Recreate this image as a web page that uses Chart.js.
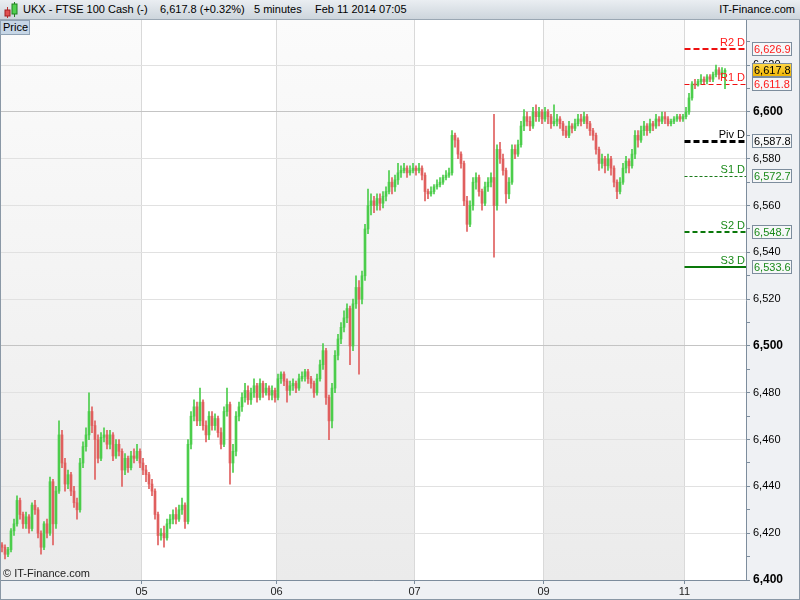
<!DOCTYPE html>
<html>
<head>
<meta charset="utf-8">
<script src="https://cdn.jsdelivr.net/npm/chart.js@4.4.0/dist/chart.umd.min.js"></script>
<style>
  html, body { margin: 0; padding: 0; background: #fff; }
  #wrap { position: relative; width: 800px; height: 600px; overflow: hidden; font-family: "Liberation Sans", Arial, sans-serif; }
  #chart { position: absolute; left: 0; top: 0; }
  #head { position: absolute; left: 0; top: 0; width: 800px; height: 20px; box-sizing: border-box;
          background: linear-gradient(#eaeef2, #cdd5dc); border-bottom: 1px solid #9aa7b3; font-size: 11px; color: #000; }
  #head span { position: absolute; top: 3px; white-space: nowrap; }
  #head svg { position: absolute; left: 3px; top: 2px; }
  #price { position: absolute; left: 0; top: 20px; width: 30px; height: 15px; box-sizing: border-box;
           background: #c6d6e6; border: 1px solid #90a2b4; font-size: 11px; line-height: 13px; padding-left: 2px; }
</style>
</head>
<body>
<div id="wrap">
  <canvas id="chart" width="800" height="600"></canvas>
  <div id="head">
    <svg width="16" height="16">
      <line x1="4.5" y1="5" x2="4.5" y2="16" stroke="#c03030"/>
      <rect x="2" y="8" width="5" height="6" fill="#e05050" stroke="#a02020"/>
      <line x1="11.5" y1="0" x2="11.5" y2="15" stroke="#208020"/>
      <rect x="9" y="2" width="5" height="10" fill="#50d050" stroke="#208020"/>
    </svg>
    <span style="left:23px">UKX - FTSE 100 Cash (-)</span>
    <span style="left:160px">6,617.8 (+0.32%)</span>
    <span style="left:254px">5 minutes</span>
    <span style="left:315px">Feb 11 2014 07:05</span>
    <span style="right:5px">IT-Finance.com</span>
  </div>
  <div id="price">Price</div>
</div>
<script>
// --- Données : chandelles 5 min ---
const openFirst = 6415;

const closes = [
  // 04
  6414, 6411, 6413, 6421, 6424, 6434, 6428, 6424, 6427, 6422,
  6432, 6430, 6420, 6414, 6424, 6420, 6442, 6424, 6438, 6462,
  6450, 6441, 6445, 6438, 6433, 6430, 6450, 6457, 6462, 6472,
  6466, 6460, 6452, 6461, 6462, 6458, 6462, 6453, 6458, 6455,
  6447, 6452, 6448, 6453, 6452, 6455, 6450,
  // 05
  6447, 6445, 6441, 6438, 6428, 6419, 6420, 6418, 6424, 6426,
  6428, 6426, 6430, 6432, 6425, 6458, 6470, 6474, 6468, 6476,
  6466, 6462, 6470, 6466, 6469, 6463, 6458, 6472, 6475, 6450,
  6455, 6470, 6474, 6478, 6481, 6477, 6480, 6483, 6478, 6484,
  6480, 6482, 6479, 6481, 6478,
  // 06
  6486, 6488, 6485, 6481, 6483, 6484, 6482, 6486, 6487, 6489,
  6486, 6484, 6480, 6486, 6492, 6498, 6478, 6468, 6482, 6496,
  6503, 6508, 6512, 6516, 6500, 6518, 6525, 6520, 6530, 6550,
  6560, 6562, 6560, 6563, 6561, 6564, 6566, 6570, 6568, 6571,
  6574, 6575, 6576, 6574, 6575, 6576,
  // 07
  6575, 6576, 6573, 6566, 6565, 6566, 6568, 6569, 6570, 6572,
  6573, 6574, 6590, 6588, 6582, 6578, 6562, 6552, 6560, 6570,
  6572, 6566, 6561, 6568, 6570, 6572, 6560, 6584, 6580, 6575,
  6565, 6570, 6584, 6582, 6586, 6594, 6598, 6596, 6594, 6600,
  6598, 6600, 6597,
  // 09/10
  6600, 6598, 6595, 6596, 6597, 6595, 6592, 6590, 6594, 6593,
  6595, 6597, 6596, 6598, 6595, 6592, 6590, 6584, 6578, 6580,
  6577, 6580, 6576, 6570, 6566, 6570, 6576, 6579, 6577, 6582,
  6590, 6588, 6592, 6594, 6592, 6595, 6594, 6597, 6596, 6598,
  6597, 6595, 6596, 6597, 6598, 6597, 6598,
  // 11
  6600, 6606, 6612, 6611.5, 6613, 6614, 6613, 6615, 6614, 6616, 6618, 6616, 6617, 6617.8
];

const highs = [
  6416, 6415, 6414, 6422, 6426, 6436, 6435, 6429, 6429, 6428,
  6433, 6434, 6431, 6421, 6425, 6426, 6444, 6443, 6440, 6468,
  6464, 6452, 6447, 6446, 6440, 6435, 6452, 6459, 6465, 6480,
  6474, 6468, 6462, 6463, 6465, 6464, 6464, 6463, 6460, 6460,
  6456, 6454, 6453, 6455, 6456, 6458, 6456,
  6452, 6449, 6446, 6443, 6439, 6429, 6422, 6423, 6426, 6428,
  6430, 6431, 6432, 6435, 6433, 6460, 6472, 6477, 6476, 6482,
  6477, 6468, 6472, 6472, 6471, 6470, 6465, 6474, 6482, 6476,
  6458, 6472, 6476, 6480, 6484, 6483, 6482, 6486, 6484, 6486,
  6485, 6484, 6483, 6483, 6482,
  6488, 6489, 6489, 6486, 6485, 6486, 6485, 6488, 6489, 6490,
  6490, 6487, 6485, 6488, 6494, 6501, 6499, 6479, 6484, 6498,
  6505, 6510, 6515, 6518, 6517, 6520, 6530, 6528, 6532, 6552,
  6567, 6565, 6564, 6565, 6565, 6566, 6568, 6575, 6572, 6573,
  6578, 6577, 6578, 6577, 6577, 6578,
  6577, 6578, 6577, 6574, 6567, 6568, 6569, 6571, 6572, 6573,
  6575, 6576, 6592, 6591, 6589, 6583, 6579, 6564, 6562, 6572,
  6574, 6573, 6567, 6570, 6572, 6574, 6599, 6586, 6587, 6582,
  6576, 6572, 6586, 6586, 6588, 6596, 6601, 6600, 6598, 6602,
  6603, 6602, 6601,
  6602, 6601, 6599, 6603, 6599, 6598, 6596, 6594, 6596, 6595,
  6597, 6599, 6599, 6600, 6599, 6596, 6593, 6591, 6585, 6582,
  6581, 6582, 6581, 6577, 6571, 6572, 6578, 6581, 6580, 6584,
  6592, 6592, 6594, 6596, 6595, 6597, 6596, 6599, 6598, 6600,
  6600, 6598, 6597, 6598, 6599, 6599, 6599,
  6602, 6608, 6613, 6614, 6614, 6616, 6615, 6616, 6616, 6617, 6620, 6619, 6619, 6618.5
];

const lows = [
  6412, 6409, 6410, 6412, 6419, 6423, 6426, 6422, 6422, 6420,
  6421, 6428, 6418, 6411, 6413, 6418, 6419, 6415, 6422, 6437,
  6448, 6438, 6439, 6436, 6431, 6426, 6429, 6448, 6455, 6460,
  6463, 6443, 6450, 6451, 6459, 6456, 6456, 6451, 6452, 6453,
  6440, 6445, 6446, 6447, 6450, 6451, 6448,
  6445, 6442, 6439, 6436, 6426, 6415, 6417, 6414, 6417, 6422,
  6424, 6424, 6425, 6428, 6422, 6424, 6456, 6468, 6466, 6466,
  6464, 6459, 6460, 6464, 6464, 6461, 6456, 6457, 6470, 6441,
  6446, 6453, 6468, 6472, 6476, 6475, 6475, 6478, 6476, 6477,
  6478, 6479, 6477, 6477, 6476,
  6477, 6484, 6483, 6476, 6479, 6481, 6480, 6481, 6485, 6485,
  6484, 6482, 6478, 6479, 6485, 6490, 6475, 6460, 6465, 6480,
  6494, 6501, 6506, 6510, 6492, 6498, 6516, 6488, 6518, 6528,
  6548, 6556, 6557, 6558, 6558, 6559, 6562, 6565, 6565, 6566,
  6569, 6572, 6574, 6572, 6573, 6574,
  6573, 6574, 6571, 6562, 6563, 6564, 6565, 6567, 6568, 6569,
  6571, 6572, 6573, 6585, 6580, 6576, 6560, 6549, 6551, 6558,
  6567, 6564, 6558, 6560, 6566, 6568, 6538, 6558, 6578, 6573,
  6561, 6563, 6569, 6580, 6581, 6585, 6592, 6594, 6592, 6593,
  6596, 6596, 6595,
  6596, 6595, 6593, 6594, 6594, 6593, 6590, 6589, 6589, 6591,
  6592, 6594, 6594, 6595, 6593, 6590, 6588, 6582, 6575, 6576,
  6574, 6575, 6573, 6568, 6563, 6565, 6569, 6574, 6574, 6576,
  6580, 6585, 6587, 6590, 6590, 6591, 6592, 6593, 6594, 6595,
  6595, 6594, 6594, 6595, 6596, 6596, 6596,
  6597, 6599, 6605, 6610, 6611, 6612, 6612, 6612, 6613, 6613, 6615, 6614, 6615, 6610
];

// premier indice de chaque jour et libellé de l'axe
const dayStart  = [47, 92, 138, 181, 228];
const dayLabels = ['05', '06', '07', '09', '11'];

// points pivots journaliers
const pivotNames  = ['R2 D', 'R1 D', 'Piv D', 'S1 D', 'S2 D', 'S3 D'];
const pivotValues = [6626.9, 6611.8, 6587.8, 6572.7, 6548.7, 6533.6];
const lastPrice = 6617.8;

const yTicks = { min: 6400, max: 6639.3, step: 10 };

// --- construction ---
const opens = closes.map((c, i) => i === 0 ? openFirst : closes[i - 1]);
const UP = '#4ccd4c', DOWN = '#e0605f';
const candleColor = ctx => closes[ctx.dataIndex] >= opens[ctx.dataIndex] ? UP : DOWN;

const pivStyle = [
  { color: '#ee1010', text: '#ff1a1a', width: 2, dash: [6, 3] },
  { color: '#ee1010', text: '#ff1a1a', width: 1, dash: [5, 3] },
  { color: '#000000', text: '#000000', width: 3, dash: [6, 3] },
  { color: '#1a7a1a', text: '#1a8a1a', width: 1, dash: [3, 2] },
  { color: '#0a780a', text: '#1a8a1a', width: 2, dash: [5, 3] },
  { color: '#0a780a', text: '#1a8a1a', width: 2, dash: [] }
];

const fmt = v => v.toLocaleString('en-US', { minimumFractionDigits: 0, maximumFractionDigits: 1 });
const fmt1 = v => v.toLocaleString('en-US', { minimumFractionDigits: 1, maximumFractionDigits: 1 });

const decor = {
  id: 'decor',
  beforeDraw(chart) {
    const { ctx, chartArea: a, scales: { x } } = chart;
    ctx.save();
    ctx.fillStyle = '#eff1f4';
    ctx.fillRect(0, 0, chart.width, chart.height);
    ctx.fillStyle = '#ffffff';
    ctx.fillRect(a.left, a.top, a.right - a.left, a.bottom - a.top);
    const g = ctx.createLinearGradient(0, a.top, 0, a.bottom);
    g.addColorStop(0, '#fbfbfb');
    g.addColorStop(1, '#ebebeb');
    ctx.fillStyle = g;
    const bounds = [x.min, ...dayStart.map(d => d - 0.5), x.max];
    for (let k = 0; k < bounds.length - 1; k += 2) {
      const x0 = x.getPixelForValue(bounds[k]);
      const x1 = x.getPixelForValue(bounds[k + 1]);
      ctx.fillRect(x0, a.top, x1 - x0, a.bottom - a.top);
    }
    ctx.restore();
  },
  beforeDatasetsDraw(chart) {
    const { ctx, chartArea: a, scales: { x, y } } = chart;
    const x0 = x.getPixelForValue(dayStart[dayStart.length - 1] - 0.5);
    ctx.save();
    pivotValues.forEach((v, k) => {
      const s = pivStyle[k];
      const py = Math.round(y.getPixelForValue(v)) + (s.width % 2 ? 0.5 : 0);
      ctx.strokeStyle = s.color;
      ctx.lineWidth = s.width;
      ctx.setLineDash(s.dash);
      ctx.beginPath();
      ctx.moveTo(x0, py);
      ctx.lineTo(a.right, py);
      ctx.stroke();
    });
    ctx.restore();
  },
  afterDraw(chart) {
    const { ctx, chartArea: a, scales: { y } } = chart;
    ctx.save();
    ctx.font = '11px "Liberation Sans", Arial, sans-serif';
    // libellés des pivots
    ctx.textAlign = 'right';
    ctx.textBaseline = 'alphabetic';
    pivotValues.forEach((v, k) => {
      const py = y.getPixelForValue(v);
      ctx.fillStyle = pivStyle[k].text;
      ctx.fillText(pivotNames[k], a.right - 1, py - 3);
    });
    // étiquettes de valeur sur l'axe
    const box = (v, fill, color, bold) => {
      const py = Math.round(y.getPixelForValue(v));
      ctx.fillStyle = fill;
      ctx.fillRect(a.right + 6, py - 7, 40, 14);
      ctx.strokeStyle = '#7d8d9d';
      ctx.lineWidth = 1;
      ctx.setLineDash([]);
      ctx.strokeRect(a.right + 6.5, py - 6.5, 39, 13);
      ctx.fillStyle = color;
      ctx.textAlign = 'left';
      ctx.textBaseline = 'middle';
      ctx.font = (bold ? 'bold ' : '') + '11px "Liberation Sans", Arial, sans-serif';
      ctx.fillText(fmt1(v), a.right + 8, py + 0.5);
    };
    pivotValues.forEach((v, k) => box(v, '#f6f7f8', pivStyle[k].text, false));
    const gy = Math.round(y.getPixelForValue(lastPrice));
    const gold = ctx.createLinearGradient(0, gy - 7, 0, gy + 7);
    gold.addColorStop(0, '#ffd84a');
    gold.addColorStop(1, '#f0b400');
    box(lastPrice, gold, '#000000', false);
    // copyright
    ctx.font = '11px "Liberation Sans", Arial, sans-serif';
    ctx.fillStyle = '#222';
    ctx.textAlign = 'left';
    ctx.textBaseline = 'alphabetic';
    ctx.fillText('\u00A9 IT-Finance.com', 3, a.bottom - 3);
    // cadre
    ctx.strokeStyle = '#8a98a6';
    ctx.strokeRect(0.5, 0.5, chart.width - 1, chart.height - 1);
    ctx.restore();
  }
};

new Chart(document.getElementById('chart'), {
  type: 'bar',
  data: {
    datasets: [
      {
        data: closes.map((c, i) => ({ x: i, y: [lows[i], highs[i]] })),
        backgroundColor: candleColor,
        barThickness: 1,
        grouped: false,
        borderWidth: 0
      },
      {
        data: closes.map((c, i) => ({ x: i, y: [opens[i], c] })),
        backgroundColor: candleColor,
        barThickness: 2,
        minBarLength: 1,
        grouped: false,
        borderWidth: 0
      }
    ]
  },
  options: {
    responsive: false,
    devicePixelRatio: 1,
    animation: false,
    events: [],
    layout: { padding: { top: 20, left: 0, right: 0, bottom: 0 } },
    plugins: { legend: { display: false }, tooltip: { enabled: false } },
    scales: {
      x: {
        type: 'linear',
        min: -2 / 3,
        max: -2 / 3 + 746 / 3,
        offset: false,
        afterFit: s => { s.height = 20; },
        afterBuildTicks: s => { s.ticks = dayStart.map(d => ({ value: d - 0.5 })); },
        border: { color: '#7d8d9d' },
        grid: { offset: false, color: '#d9d9d9', tickColor: '#7d8d9d', tickLength: 4 },
        ticks: {
          autoSkip: false, maxRotation: 0, padding: 1, color: '#222',
          font: { family: '"Liberation Sans", Arial, sans-serif', size: 11 },
          callback: (v, idx) => dayLabels[idx]
        }
      },
      y: {
        position: 'right',
        min: yTicks.min,
        max: yTicks.max,
        afterFit: s => { s.width = 54; },
        border: { color: '#7d8d9d' },
        grid: {
          color: c => c.tick.value % 100 === 0 ? '#c4c4c4' : (c.tick.value % 20 === 0 ? '#e1e1e1' : 'rgba(0,0,0,0)'),
          tickColor: '#7d8d9d',
          tickLength: 4
        },
        ticks: {
          stepSize: yTicks.step,
          includeBounds: false,
          autoSkip: false,
          padding: 3,
          color: '#000',
          font: c => c.tick && c.tick.value % 100 === 0
            ? { family: '"Liberation Sans", Arial, sans-serif', size: 12, weight: 'bold' }
            : { family: '"Liberation Sans", Arial, sans-serif', size: 11 },
          callback: v => v % 20 === 0 ? fmt(v) : ''
        }
      }
    }
  },
  plugins: [decor]
});
</script>
</body>
</html>
